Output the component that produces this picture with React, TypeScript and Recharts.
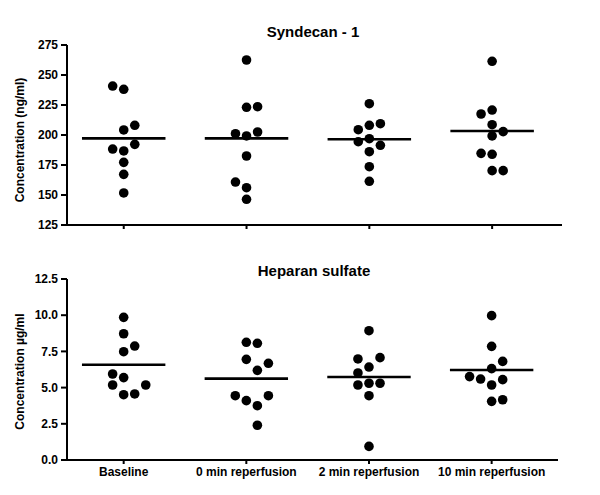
import { ReferenceLine, Scatter, ScatterChart, XAxis, YAxis, Label } from "recharts";

const categories = ["Baseline", "0 min reperfusion", "2 min reperfusion", "10 min reperfusion"];

// Syndecan-1 (ng/ml), one list per time point
const synBaseline = [240.8, 238.1, 208.1, 204.2, 192.2, 188.3, 186.7, 177.2, 167.2, 151.7];
const syn0min = [262.5, 223.6, 223.1, 202.5, 201.1, 199.2, 182.5, 160.8, 156.1, 146.4];
const syn2min = [226.1, 209.4, 208.1, 204.4, 196.9, 194.4, 191.4, 186.1, 173.6, 161.4];
const syn10min = [261.4, 220.8, 217.5, 208.6, 202.8, 199.2, 184.7, 183.9, 170.3, 170.3];
const synMedians = [197.2, 197.2, 196.4, 203.3];
// horizontal spread column of each dot (-1 left, 0 centre, 1 right)
const synSlots = [
  [-1, 0, 1, 0, 1, -1, 0, 0, 0, 0],
  [0, 1, 0, 1, -1, 0, 0, -1, 0, 0],
  [0, 1, 0, -1, 0, -1, 1, 0, 0, 0],
  [0, 0, -1, 0, 1, 0, -1, 0, 0, 1],
];
const synTicks = [125, 150, 175, 200, 225, 250, 275];

// Heparan sulfate (µg/ml)
const hsBaseline = [9.85, 8.72, 7.87, 7.48, 5.94, 5.69, 5.18, 5.18, 4.56, 4.51];
const hs0min = [8.13, 8.06, 6.95, 6.68, 6.19, 4.44, 4.44, 4.1, 3.75, 2.4];
const hs2min = [8.93, 7.07, 6.98, 6.42, 6.01, 5.3, 5.3, 5.18, 4.44, 0.94];
const hs10min = [9.97, 7.85, 6.81, 6.31, 5.76, 5.59, 5.55, 5.18, 4.16, 4.05];
const hsMedians = [6.58, 5.62, 5.73, 6.22];
const hsSlots = [
  [0, 0, 1, 0, -1, 0, -1, 2, 1, 0],
  [0, 1, 0, 2, 1, -1, 2, 0, 1, 1],
  [0, 1, -1, 0, -1, 0, 1, -1, 0, 0],
  [0, 0, 1, 0, -2, -1, 1, 0, 1, 0],
];
const hsTicks = [0, 2.5, 5, 7.5, 10, 12.5];

const SPREAD = 0.09;
const HALF_LINE = 0.34;
const FONT = "'Liberation Sans', Arial, sans-serif";

const buildPoints = (groups: number[][], slots: number[][]) =>
  groups.flatMap((vals, i) => vals.map((v, j) => ({ x: i + slots[i][j] * SPREAD, y: v })));

const synPoints = buildPoints([synBaseline, syn0min, syn2min, syn10min], synSlots);
const hsPoints = buildPoints([hsBaseline, hs0min, hs2min, hs10min], hsSlots);

const Dot = (props: any) => <circle cx={props.cx} cy={props.cy} r={4.8} fill="#000" />;

const YTitle = (props: any) => {
  const vb = props.viewBox;
  const cx = vb.x + 20;
  const cy = vb.y + vb.height / 2 + (props.shift || 0);
  return (
    <text
      x={cx}
      y={cy}
      transform={`rotate(-90 ${cx} ${cy})`}
      textAnchor="middle"
      dominantBaseline="central"
      fontSize={12}
      fontWeight="bold"
      fill="#000"
    >
      {props.text}
    </text>
  );
};

const axisStyle = { stroke: "#000", strokeWidth: 2 };
const tickStyle = { fill: "#000", fontSize: 12, fontWeight: "bold" };

export default function App() {
  return (
    <div style={{ position: "absolute", left: 0, top: 0, width: 600, height: 495, background: "#fff", fontFamily: FONT }}>
      <div style={{ position: "absolute", left: 0, top: 0 }}>
        <ScatterChart width={600} height={240} margin={{ top: 45, right: 38, bottom: 5, left: 0 }}>
          <XAxis
            type="number"
            dataKey="x"
            domain={[-0.462, 3.569]}
            allowDataOverflow
            ticks={[0, 1, 2, 3]}
            tickFormatter={() => ""}
            height={10}
            tickSize={4}
            axisLine={axisStyle}
            tickLine={axisStyle}
          />
          <YAxis
            type="number"
            dataKey="y"
            domain={[125, 275]}
            ticks={synTicks}
            width={67}
            tickSize={6}
            tickMargin={3}
            axisLine={axisStyle}
            tickLine={axisStyle}
            tick={tickStyle}
          >
            <Label content={(p: any) => <YTitle {...p} text="Concentration (ng/ml)" shift={5} />} />
          </YAxis>
          {synMedians.map((m, i) => (
            <ReferenceLine
              key={i}
              segment={[{ x: i - HALF_LINE, y: m }, { x: i + HALF_LINE, y: m }]}
              stroke="#000"
              strokeWidth={2.6}
            />
          ))}
          <Scatter data={synPoints} shape={Dot} isAnimationActive={false} />
        </ScatterChart>
      </div>
      <div style={{ position: "absolute", left: 213, top: 24, width: 200, textAlign: "center", fontSize: 15, lineHeight: "15px", fontWeight: "bold" }}>
        Syndecan - 1
      </div>
      <div style={{ position: "absolute", left: 0, top: 240 }}>
        <ScatterChart width={600} height={255} margin={{ top: 39, right: 42, bottom: 5, left: 0 }}>
          <XAxis
            type="number"
            dataKey="x"
            domain={[-0.462, 3.541]}
            allowDataOverflow
            ticks={[0, 1, 2, 3]}
            tickFormatter={(v: number) => categories[v] ?? ""}
            interval={0}
            height={30}
            tickSize={4}
            tickMargin={3}
            axisLine={axisStyle}
            tickLine={axisStyle}
            tick={tickStyle}
          />
          <YAxis
            type="number"
            dataKey="y"
            domain={[0, 12.5]}
            ticks={hsTicks}
            tickFormatter={(v: number) => v.toFixed(1)}
            width={67}
            tickSize={6}
            tickMargin={3}
            axisLine={axisStyle}
            tickLine={axisStyle}
            tick={tickStyle}
          >
            <Label content={(p: any) => <YTitle {...p} text="Concentration µg/ml" shift={2} />} />
          </YAxis>
          {hsMedians.map((m, i) => (
            <ReferenceLine
              key={i}
              segment={[{ x: i - HALF_LINE, y: m }, { x: i + HALF_LINE, y: m }]}
              stroke="#000"
              strokeWidth={2.6}
            />
          ))}
          <Scatter data={hsPoints} shape={Dot} isAnimationActive={false} />
        </ScatterChart>
      </div>
      <div style={{ position: "absolute", left: 214, top: 263, width: 200, textAlign: "center", fontSize: 15, lineHeight: "15px", fontWeight: "bold" }}>
        Heparan sulfate
      </div>
    </div>
  );
}
